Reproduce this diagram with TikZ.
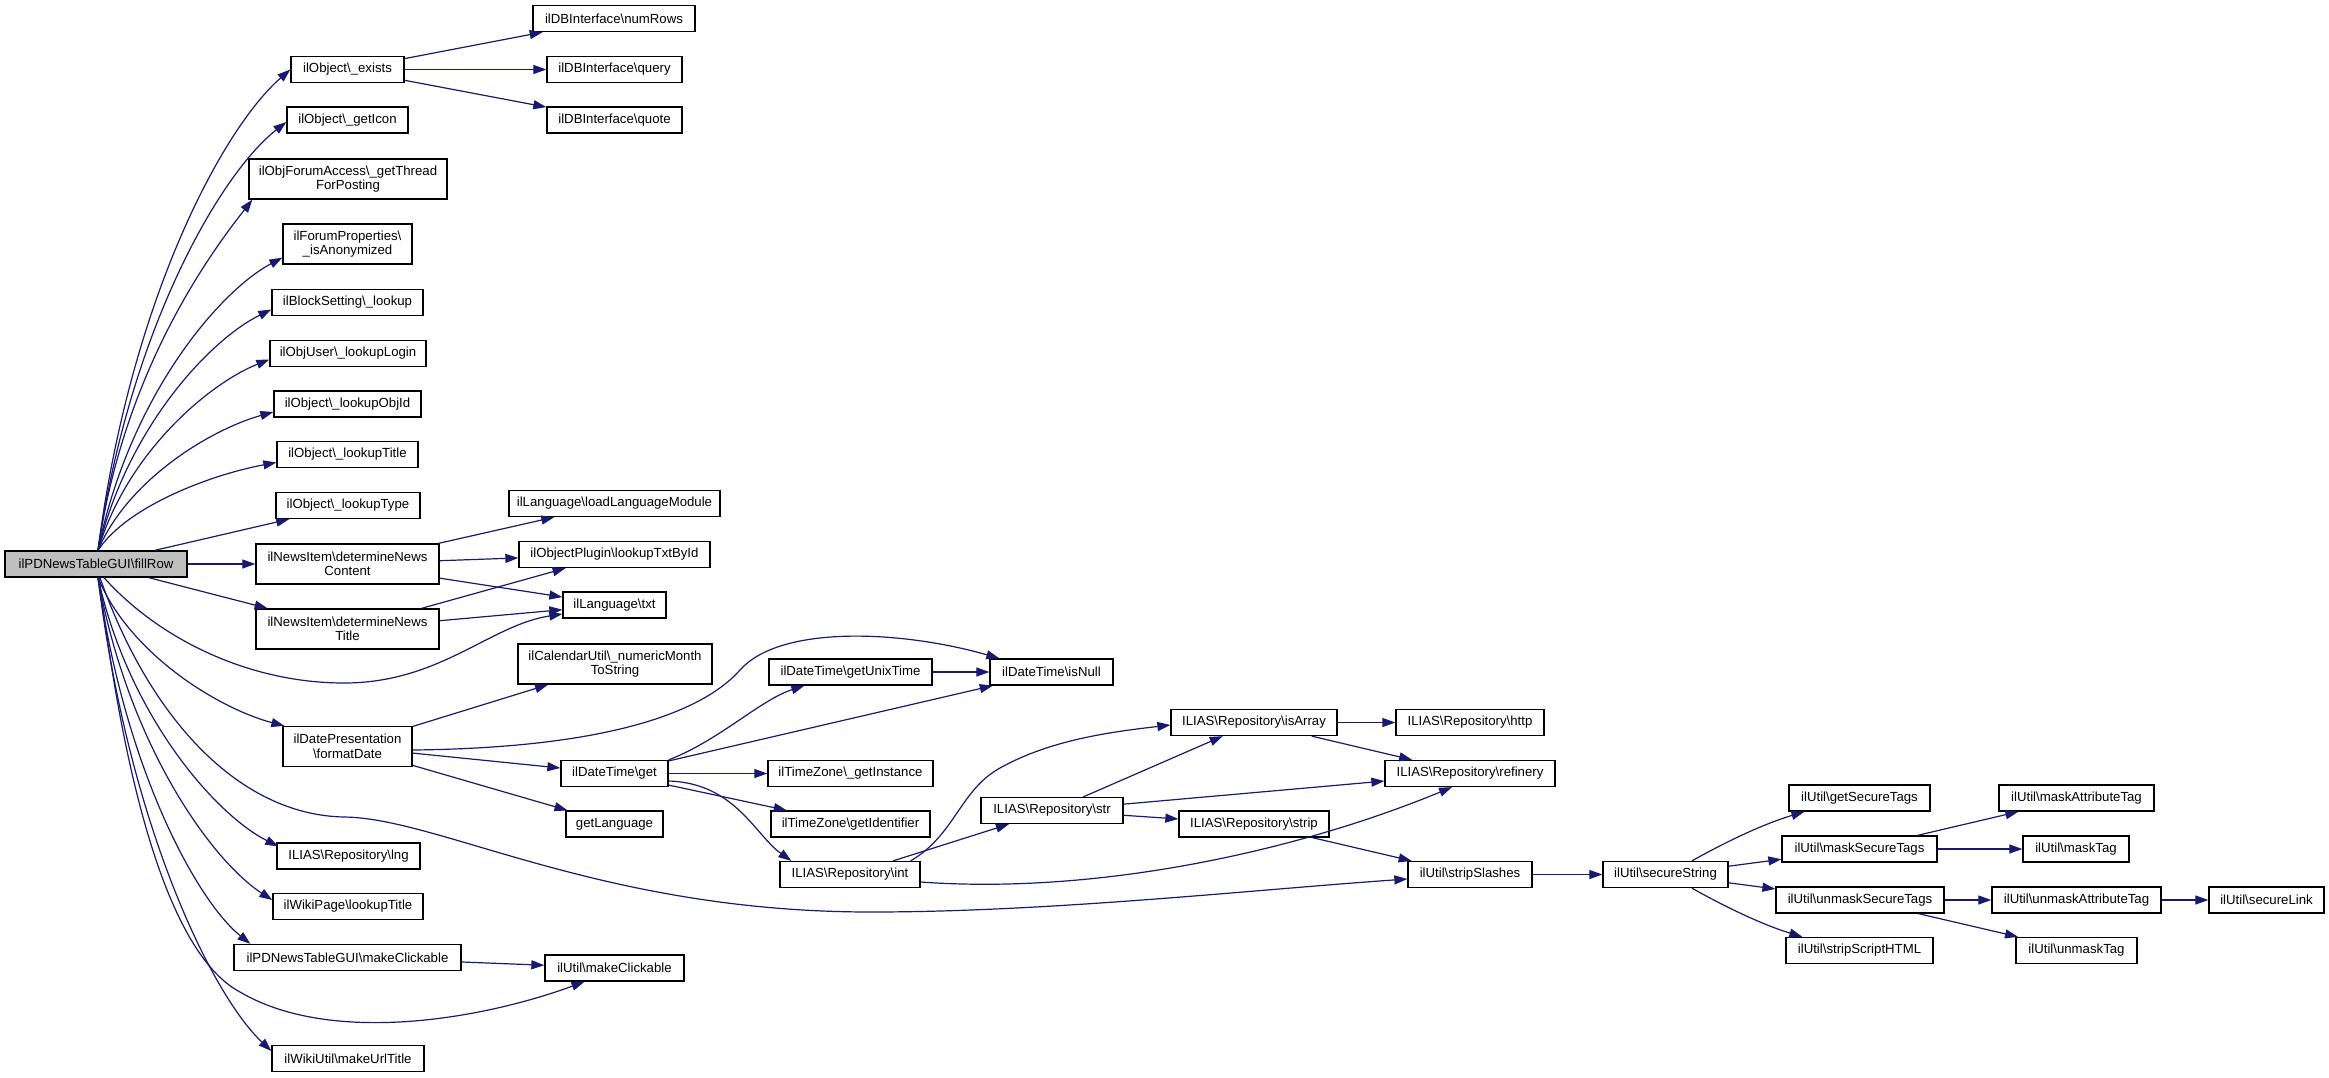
\documentclass[tikz,border=0pt]{standalone}
\usepackage{fontspec}
\setmainfont{Liberation Sans}
\usetikzlibrary{arrows.meta}
\definecolor{edgec}{HTML}{191970}
\definecolor{fillg}{HTML}{BFBFBF}
\newcommand\bs{\textbackslash}
\begin{document}
\begin{tikzpicture}[x=1pt,y=-1pt,
 box/.style={draw=black, fill=white, line width=1.3pt, inner sep=0pt, align=center, font=\fontsize{13.2}{14.5}\selectfont},
 e/.style={draw=edgec, line width=1.2pt, -{Triangle[length=13pt,width=9pt]}},
]
\useasboundingbox (0,0) rectangle (2329,1077);
\fill[white] (0,0) rectangle (2329,1077);
% column 1
\node[box, fill=fillg, minimum width=182pt, minimum height=26pt] (fillRow) at (96,564) {ilPDNewsTableGUI\bs{}fillRow};
% column 2
\node[box, minimum width=113pt, minimum height=26pt] (exists) at (347.5,69.5) {ilObject\bs\_exists};
\node[box, minimum width=121pt, minimum height=26pt] (getIcon) at (347.5,120) {ilObject\bs\_getIcon};
\node[box, minimum width=198pt, minimum height=40pt] (thread) at (348,179) {ilObjForumAccess\bs\_getThread\\ForPosting};
\node[box, minimum width=129pt, minimum height=40pt] (anon) at (347.5,244) {ilForumProperties\bs\\\_isAnonymized};
\node[box, minimum width=151pt, minimum height=26pt] (bslookup) at (347.5,302.5) {ilBlockSetting\bs\_lookup};
\node[box, minimum width=156pt, minimum height=26pt] (login) at (348,353.5) {ilObjUser\bs\_lookupLogin};
\node[box, minimum width=147pt, minimum height=26pt] (objid) at (347.5,404) {ilObject\bs\_lookupObjId};
\node[box, minimum width=141pt, minimum height=26pt] (title) at (347.5,454.5) {ilObject\bs\_lookupTitle};
\node[box, minimum width=144pt, minimum height=26pt] (type) at (348,505.5) {ilObject\bs\_lookupType};
\node[box, minimum width=183pt, minimum height=40pt] (content) at (347.5,564) {ilNewsItem\bs{}determineNews\\Content};
\node[box, minimum width=183pt, minimum height=40pt] (ntitle) at (347.5,629) {ilNewsItem\bs{}determineNews\\Title};
\node[box, minimum width=129pt, minimum height=40pt] (formatDate) at (347.5,746.5) {ilDatePresentation\\\bs{}formatDate};
\node[box, minimum width=143pt, minimum height=26pt] (lng) at (348.5,856) {ILIAS\bs{}Repository\bs{}lng};
\node[box, minimum width=150pt, minimum height=26pt] (wikiTitle) at (348,906.5) {ilWikiPage\bs{}lookupTitle};
\node[box, minimum width=227pt, minimum height=26pt] (pdClick) at (347.5,957.5) {ilPDNewsTableGUI\bs{}makeClickable};
\node[box, minimum width=152pt, minimum height=26pt] (urlTitle) at (348,1058.5) {ilWikiUtil\bs{}makeUrlTitle};
% column 3
\node[box, minimum width=162pt, minimum height=26pt] (numRows) at (614,18.5) {ilDBInterface\bs{}numRows};
\node[box, minimum width=135pt, minimum height=26pt] (query) at (614.5,69.5) {ilDBInterface\bs{}query};
\node[box, minimum width=135pt, minimum height=26pt] (quote) at (614.5,120) {ilDBInterface\bs{}quote};
\node[box, minimum width=211pt, minimum height=26pt] (loadLM) at (614.5,503.5) {ilLanguage\bs{}loadLanguageModule};
\node[box, minimum width=191pt, minimum height=26pt] (txtById) at (614.5,554.5) {ilObjectPlugin\bs{}lookupTxtById};
\node[box, minimum width=103pt, minimum height=26pt] (txt) at (614.5,605) {ilLanguage\bs{}txt};
\node[box, minimum width=194pt, minimum height=40pt] (month) at (615,664) {ilCalendarUtil\bs\_numericMonth\\ToString};
\node[box, minimum width=107pt, minimum height=26pt] (dtget) at (614.5,773.5) {ilDateTime\bs{}get};
\node[box, minimum width=97pt, minimum height=26pt] (getLanguage) at (614.5,824) {getLanguage};
\node[box, minimum width=139pt, minimum height=26pt] (utilClick) at (614.5,968) {ilUtil\bs{}makeClickable};
% column 4
\node[box, minimum width=163pt, minimum height=26pt] (unixTime) at (850.5,672) {ilDateTime\bs{}getUnixTime};
\node[box, minimum width=165pt, minimum height=26pt] (tzInst) at (850.5,773.5) {ilTimeZone\bs\_getInstance};
\node[box, minimum width=159pt, minimum height=26pt] (tzId) at (850.5,824) {ilTimeZone\bs{}getIdentifier};
\node[box, minimum width=140pt, minimum height=26pt] (int) at (850,874.5) {ILIAS\bs{}Repository\bs{}int};
% column 5
\node[box, minimum width=123pt, minimum height=26pt] (isNull) at (1051.5,672) {ilDateTime\bs{}isNull};
\node[box, minimum width=142pt, minimum height=26pt] (str) at (1052,810.5) {ILIAS\bs{}Repository\bs{}str};
% column 6
\node[box, minimum width=166pt, minimum height=26pt] (isArray) at (1254,722.5) {ILIAS\bs{}Repository\bs{}isArray};
\node[box, minimum width=150pt, minimum height=26pt] (strip) at (1254,824) {ILIAS\bs{}Repository\bs{}strip};
% column 7
\node[box, minimum width=148pt, minimum height=26pt] (http) at (1470,722.5) {ILIAS\bs{}Repository\bs{}http};
\node[box, minimum width=170pt, minimum height=26pt] (refinery) at (1470,773.5) {ILIAS\bs{}Repository\bs{}refinery};
\node[box, minimum width=124pt, minimum height=26pt] (stripSlashes) at (1470,874.5) {ilUtil\bs{}stripSlashes};
% column 8
\node[box, minimum width=125pt, minimum height=26pt] (secureString) at (1665.5,874.5) {ilUtil\bs{}secureString};
% column 9
\node[box, minimum width=141pt, minimum height=26pt] (getSecureTags) at (1859.5,798) {ilUtil\bs{}getSecureTags};
\node[box, minimum width=155pt, minimum height=26pt] (maskSecureTags) at (1859.5,849) {ilUtil\bs{}maskSecureTags};
\node[box, minimum width=168pt, minimum height=26pt] (unmaskSecureTags) at (1860,900) {ilUtil\bs{}unmaskSecureTags};
\node[box, minimum width=147pt, minimum height=26pt] (stripScriptHTML) at (1859.5,950.5) {ilUtil\bs{}stripScriptHTML};
% column 10
\node[box, minimum width=155pt, minimum height=26pt] (maskAttributeTag) at (2076.5,798) {ilUtil\bs{}maskAttributeTag};
\node[box, minimum width=106pt, minimum height=26pt] (maskTag) at (2076,849) {ilUtil\bs{}maskTag};
\node[box, minimum width=169pt, minimum height=26pt] (unmaskAttributeTag) at (2076.5,900) {ilUtil\bs{}unmaskAttributeTag};
\node[box, minimum width=121pt, minimum height=26pt] (unmaskTag) at (2076.5,950.5) {ilUtil\bs{}unmaskTag};
% column 11
\node[box, minimum width=115pt, minimum height=26pt] (secureLink) at (2266.5,900) {ilUtil\bs{}secureLink};

% fan up from fillRow
\draw[e] ([xshift=2pt]fillRow.north) .. controls (130,300) and (223,128) .. (exists.west);
\draw[e] ([xshift=2pt]fillRow.north) .. controls (130,328) and (221,173) .. ([yshift=-2pt]getIcon.west);
\draw[e] ([xshift=2pt]fillRow.north) .. controls (124,368) and (213,250) .. ([xshift=4pt]thread.south west);
\draw[e] ([xshift=2pt]fillRow.north) .. controls (129,398) and (218,292) .. ([yshift=7pt]anon.south west);
\draw[e] ([xshift=2pt]fillRow.north) .. controls (128,426) and (211,339) .. ([yshift=-7pt]bslookup.west);
\draw[e] ([xshift=2pt]fillRow.north) .. controls (127,452) and (210,383) .. ([yshift=-6pt]login.west);
\draw[e] ([xshift=2pt]fillRow.north) .. controls (128,479) and (212,429) .. ([yshift=-8pt]objid.west);
\draw[e] ([xshift=2pt]fillRow.north) .. controls (128,505) and (214,474) .. ([yshift=-8pt]title.west);
\draw[e] (fillRow) -- (type);
\draw[e] (fillRow) -- (content);
\draw[e] (fillRow) -- (ntitle);
% fan down from fillRow
\draw[e] ([xshift=2pt]fillRow.south) .. controls (130,655) and (220,709) .. ([xshift=2pt]formatDate.north west);
\draw[e] ([xshift=2pt]fillRow.south) .. controls (129,717) and (216,815) .. ([xshift=2pt,yshift=-4pt]lng.north west);
\draw[e] ([xshift=2pt]fillRow.south) .. controls (128,745) and (212,861) .. ([yshift=6.5pt]wikiTitle.west);
\draw[e] ([xshift=2pt]fillRow.south) .. controls (124,768) and (197,901) .. ([xshift=17pt]pdClick.north west);
\draw[e] ([xshift=2pt]fillRow.south) .. controls (128,823) and (211,994) .. ([yshift=7.5pt]urlTitle.west);
\draw[e] ([xshift=8pt]fillRow.south) .. controls (160,640) and (250,683) .. (344,683) .. controls (440,683) and (490,625) .. ([yshift=-9pt]txt.west);
\draw[e] ([xshift=4pt]fillRow.south) .. controls (150,720) and (240,815) .. (344,817) .. controls (440,818) and (600,912) .. (871,912) .. controls (1050,912) and (1250,890) .. ([yshift=-4.5pt]stripSlashes.west);
\draw[e] ([xshift=3pt]fillRow.south) .. controls (130,830) and (180,960) .. (240,992) .. controls (330,1045) and (480,1020) .. ([xshift=-30pt]utilClick.south);
% exists
\draw[e] (exists) -- (numRows);
\draw[e] (exists) -- (query);
\draw[e] (exists) -- (quote);
% news items
\draw[e] (content) -- (loadLM);
\draw[e] (content) -- (txtById);
\draw[e] (content) -- (txt);
\draw[e] (ntitle) -- (txtById);
\draw[e] (ntitle) -- (txt);
% formatDate
\draw[e] (formatDate) -- (month);
\draw[e] (formatDate) -- (dtget);
\draw[e] (formatDate) -- (getLanguage);
\draw[e] ([yshift=-3.5pt]formatDate.east) .. controls (600,748) and (700,715) .. (740,670) .. controls (780,625) and (900,630) .. ([xshift=10pt]isNull.north west);
% dtget
\draw[e] (dtget.north east) .. controls (720,740) and (760,700) .. ([xshift=36pt]unixTime.south west);
\draw[e] (dtget) -- (isNull);
\draw[e] (dtget) -- (tzInst);
\draw[e] (dtget) -- (tzId);
\draw[e] ([yshift=-7.5pt]dtget.east) .. controls (735,783) and (755,835) .. ([xshift=12pt]int.north west);
\draw[e] (unixTime) -- (isNull);
% int / str
\draw[e] (int) -- (str);
\draw[e] ([xshift=-10pt]int.north east) .. controls (955,835) and (960,790) .. (1000,768) .. controls (1050,740) and (1110,732) .. ([yshift=-2.5pt]isArray.west);
\draw[e] ([yshift=-7.5pt]int.east) .. controls (1100,895) and (1300,850) .. ([xshift=-18pt]refinery.south);
\draw[e] (str) -- (isArray);
\draw[e] (str) -- (refinery);
\draw[e] (str) -- (strip);
\draw[e] (isArray) -- (http);
\draw[e] (isArray) -- (refinery);
\draw[e] (strip) -- (stripSlashes);
\draw[e] (stripSlashes) -- (secureString);
% secureString
\draw[e] ([xshift=26.5pt]secureString.north) .. controls (1720,845) and (1760,825) .. ([xshift=16pt]getSecureTags.south west);
\draw[e] (secureString) -- (maskSecureTags);
\draw[e] (secureString) -- (unmaskSecureTags);
\draw[e] ([xshift=26.5pt]secureString.south) .. controls (1720,904) and (1760,924) .. ([xshift=17pt]stripScriptHTML.north west);
\draw[e] (maskSecureTags) -- (maskAttributeTag);
\draw[e] (maskSecureTags) -- (maskTag);
\draw[e] (unmaskSecureTags) -- (unmaskAttributeTag);
\draw[e] (unmaskSecureTags) -- (unmaskTag);
\draw[e] (unmaskAttributeTag) -- (secureLink);
% clickable
\draw[e] (pdClick) -- (utilClick);
\end{tikzpicture}
\end{document}
